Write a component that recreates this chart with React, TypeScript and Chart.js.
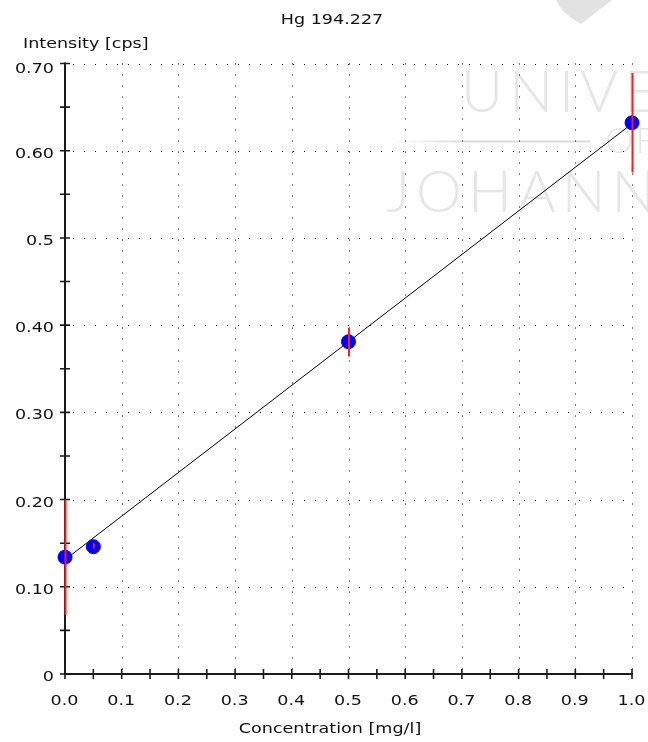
import React, { useEffect, useRef } from 'react';
import { Chart, registerables } from 'chart.js';

Chart.register(...registerables);

// ---- Texts ----
const titleText = 'Hg 194.227';
const yAxisTitle = 'Intensity [cps]';
const xAxisTitle = 'Concentration [mg/l]';
const watermarkWords = ['UNIVERSITY', 'OF', 'JOHANNESBURG'];

// ---- Data ----
const concentrations = [0, 0.05, 0.5, 1.0];
const intensities = [0.134, 0.146, 0.381, 0.632];
const errorLow = [0.068, 0.144, 0.364, 0.575];
const errorHigh = [0.2, 0.15, 0.397, 0.689];

// calibration fit line end points
const fitX = [0, 1.0];
const fitY = [0.131, 0.631];

// ---- Axes ----
const xMin = 0;
const xMax = 1.0;
const yMin = 0;
const yMax = 0.7;
const xTickValues = [0, 0.1, 0.2, 0.3, 0.4, 0.5, 0.6, 0.7, 0.8, 0.9, 1.0];
const xTickLabels = ['0.0', '0.1', '0.2', '0.3', '0.4', '0.5', '0.6', '0.7', '0.8', '0.9', '1.0'];
const yTickValues = [0, 0.1, 0.2, 0.3, 0.4, 0.5, 0.6, 0.7];
const yTickLabels = ['0', '0.10', '0.20', '0.30', '0.40', '0.5', '0.60', '0.70'];

const TEXT_FONT = '13.5px "DejaVu Sans", sans-serif';
const TEXT_SX = 1.3;
const TEXT_COLOR = '#111111';

function drawStretched(ctx: CanvasRenderingContext2D, text: string, x: number, y: number, align: CanvasTextAlign) {
  ctx.save();
  ctx.font = TEXT_FONT;
  ctx.fillStyle = TEXT_COLOR;
  ctx.textBaseline = 'alphabetic';
  ctx.textAlign = align;
  ctx.translate(x, y);
  ctx.scale(TEXT_SX, 1);
  ctx.fillText(text, 0, 0);
  ctx.restore();
}

function withMidpoints(values: number[]): number[] {
  const out: number[] = [];
  for (let i = 0; i < values.length; i++) {
    out.push(values[i]);
    if (i < values.length - 1) out.push((values[i] + values[i + 1]) / 2);
  }
  return out;
}

const watermarkPlugin = {
  id: 'watermark',
  beforeDraw(chart: any) {
    const ctx: CanvasRenderingContext2D = chart.ctx;
    ctx.save();
    ctx.fillStyle = '#e6e6e6';
    ctx.textBaseline = 'alphabetic';
    ctx.textAlign = 'left';
    (ctx as any).letterSpacing = '6px';
    ctx.font = '300 58px Lato, "DejaVu Sans", sans-serif';
    ctx.fillText(watermarkWords[0], 461, 112);
    (ctx as any).letterSpacing = '2px';
    ctx.font = '300 36px Lato, "DejaVu Sans", sans-serif';
    ctx.fillText(watermarkWords[1], 605, 153);
    (ctx as any).letterSpacing = '6px';
    ctx.font = '300 58px Lato, "DejaVu Sans", sans-serif';
    ctx.fillText(watermarkWords[2], 386, 212);
    (ctx as any).letterSpacing = '0px';
    const grad = ctx.createLinearGradient(390, 0, 590, 0);
    grad.addColorStop(0, 'rgba(220,220,220,0)');
    grad.addColorStop(0.35, 'rgba(220,220,220,1)');
    grad.addColorStop(1, 'rgba(220,220,220,1)');
    ctx.fillStyle = grad;
    ctx.fillRect(390, 140.5, 200, 2);
    ctx.fillStyle = '#e2e2e2';
    ctx.beginPath();
    ctx.moveTo(556, 0);
    ctx.quadraticCurveTo(562, 14, 581, 24);
    ctx.lineTo(612, 0);
    ctx.closePath();
    ctx.fill();
    ctx.restore();
  },
};

const gridAxesPlugin = {
  id: 'gridAxes',
  beforeDatasetsDraw(chart: any) {
    const ctx: CanvasRenderingContext2D = chart.ctx;
    const xs = chart.scales.x;
    const ys = chart.scales.y;
    const { left, right, top, bottom } = chart.chartArea;
    ctx.save();
    // dotted grid
    ctx.strokeStyle = '#000000';
    ctx.lineWidth = 1;
    ctx.setLineDash([1, 10]);
    ctx.beginPath();
    yTickValues.forEach((v) => {
      if (v === yMin) return;
      const py = Math.round(ys.getPixelForValue(v)) + 0.5;
      ctx.moveTo(left + 8, py);
      ctx.lineTo(right, py);
    });
    xTickValues.forEach((v) => {
      if (v === xMin) return;
      const px = Math.round(xs.getPixelForValue(v)) + 0.5;
      ctx.moveTo(px, top);
      ctx.lineTo(px, bottom - 4);
    });
    ctx.stroke();
    ctx.setLineDash([]);
    // axis lines
    ctx.strokeStyle = '#1a1a1a';
    ctx.lineWidth = 2;
    ctx.beginPath();
    ctx.moveTo(left, top - 1);
    ctx.lineTo(left, bottom + 1);
    ctx.moveTo(left - 1, bottom);
    ctx.lineTo(right + 1, bottom);
    ctx.stroke();
    // tick marks crossing the axes
    ctx.lineWidth = 1.6;
    ctx.beginPath();
    withMidpoints(yTickValues).forEach((v) => {
      const py = ys.getPixelForValue(v);
      ctx.moveTo(left - 5, py);
      ctx.lineTo(left + 5, py);
    });
    withMidpoints(xTickValues).forEach((v) => {
      const px = xs.getPixelForValue(v);
      ctx.moveTo(px, bottom - 5);
      ctx.lineTo(px, bottom + 5);
    });
    ctx.stroke();
    ctx.restore();
  },
};

const errorBarPlugin = {
  id: 'errorBars',
  afterDatasetsDraw(chart: any) {
    const ctx: CanvasRenderingContext2D = chart.ctx;
    const xs = chart.scales.x;
    const ys = chart.scales.y;
    ctx.save();
    ctx.strokeStyle = '#ff1c1c';
    ctx.lineWidth = 2;
    ctx.beginPath();
    concentrations.forEach((c, i) => {
      const px = xs.getPixelForValue(c) + 0.5;
      ctx.moveTo(px, ys.getPixelForValue(errorLow[i]));
      ctx.lineTo(px, ys.getPixelForValue(errorHigh[i]));
    });
    ctx.stroke();
    ctx.restore();
  },
};

const textPlugin = {
  id: 'texts',
  afterDraw(chart: any) {
    const ctx: CanvasRenderingContext2D = chart.ctx;
    const xs = chart.scales.x;
    const ys = chart.scales.y;
    const { left, top, bottom } = chart.chartArea;
    drawStretched(ctx, titleText, 332, 24, 'center');
    drawStretched(ctx, yAxisTitle, 23, 47.5, 'left');
    yTickValues.forEach((v, i) => {
      const py = ys.getPixelForValue(v);
      const base = Math.max(py + 7, top + 9);
      drawStretched(ctx, yTickLabels[i], left - 11, base, 'right');
    });
    xTickValues.forEach((v, i) => {
      const px = xs.getPixelForValue(v);
      drawStretched(ctx, xTickLabels[i], px - 0.5, bottom + 31, 'center');
    });
    drawStretched(ctx, xAxisTitle, 330, bottom + 59, 'center');
  },
};

export default function App() {
  const canvasRef = useRef<HTMLCanvasElement | null>(null);

  useEffect(() => {
    if (!canvasRef.current) return;
    const chart = new Chart(canvasRef.current, {
      type: 'scatter',
      data: {
        datasets: [
          {
            type: 'scatter',
            label: 'Standards',
            data: concentrations.map((c, i) => ({ x: c, y: intensities[i] })),
            backgroundColor: '#0000ff',
            borderColor: '#0000ff',
            borderWidth: 1,
            pointRadius: 7,
            pointStyle: 'circle',
            clip: false,
          } as any,
          {
            type: 'scatter',
            label: 'Fit',
            data: fitX.map((x, i) => ({ x, y: fitY[i] })),
            showLine: true,
            borderColor: '#000000',
            borderWidth: 1,
            pointRadius: 0,
            clip: false,
          } as any,
        ],
      },
      options: {
        responsive: false,
        animation: false,
        layout: { padding: { left: 65, right: 16, top: 63.5, bottom: 68 } },
        plugins: {
          legend: { display: false },
          tooltip: { enabled: false },
          title: { display: false },
        },
        scales: {
          x: { type: 'linear', display: false, min: xMin, max: xMax },
          y: { type: 'linear', display: false, min: yMin, max: yMax },
        },
      },
      plugins: [watermarkPlugin, gridAxesPlugin, errorBarPlugin, textPlugin],
    });
    return () => chart.destroy();
  }, []);

  return (
    <div style={{ position: 'absolute', left: 0, top: 0, width: 648, height: 742, background: '#ffffff' }}>
      <canvas ref={canvasRef} width={648} height={742} style={{ display: 'block' }} />
    </div>
  );
}
